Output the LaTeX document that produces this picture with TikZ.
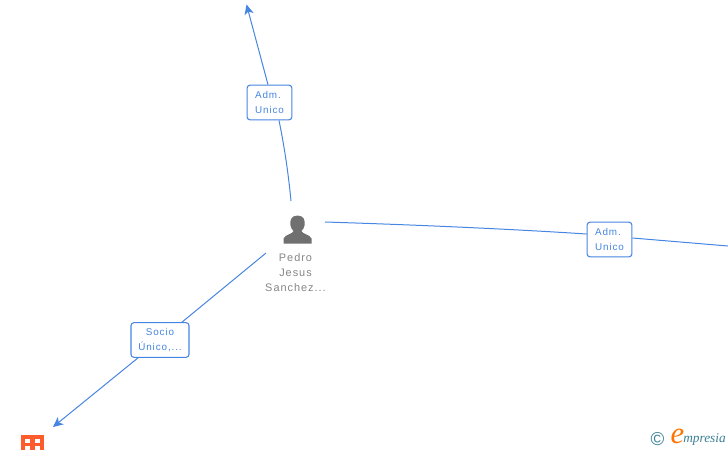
\documentclass[tikz,border=0pt]{standalone}
\usepackage{fontspec}
\setmainfont{Liberation Sans}
\newfontfamily\logofont{Liberation Serif}
\newfontfamily\spacedfont[LetterSpace=9]{Liberation Sans}
\usetikzlibrary{arrows.meta,positioning,calc}
\definecolor{linkblue}{HTML}{4685E2}
\definecolor{iconorange}{HTML}{FF5C2E}
\definecolor{icongray}{HTML}{707070}
\definecolor{logoteal}{HTML}{3A7F96}

\begin{document}
\begin{tikzpicture}[
    x=0.75pt, y=-0.75pt,
    rolebox/.style={draw=linkblue, line width=0.8pt, rounded corners=2.2pt, fill=white, align=center, inner sep=0pt,
        minimum height=26pt, text=linkblue, font=\fontsize{7.4}{11.2}\spacedfont},
    link/.style={linkblue, line width=0.75pt},
    arr/.style={link, -{Stealth[length=7.5pt, width=7pt, inset=2pt]}},
    who/.style={align=center, text=icongray!85, font=\fontsize{8.2}{11.2}\spacedfont, inner sep=0pt}
]
\useasboundingbox (0,0) rectangle (728,450);

\node[rolebox, minimum width=33.6pt, align=left] (admtop) at (269.5,102.5) {Adm.\\Unico};
\node[rolebox, minimum width=33.6pt, align=left] (admright) at (609.5,239.5) {Adm.\\Unico};
\node[rolebox, minimum width=43.5pt] (socio) at (160,340) {Socio\\Único,...};
\node[who] (pedro) at (295.5,272.5) {Pedro\\Jesus\\Sanchez...};

\coordinate (fromtop) at (291,201);
\coordinate (fromright) at (325,222);
\coordinate (fromleft) at (266,253);
\coordinate (uptip) at (246.5,4.5);
\coordinate (downtip) at (53,427);
\coordinate (rightend) at (728,246);

\draw[link] (fromtop) .. controls (288,170) and (284,145) .. (admtop.south -| 279,0);
\draw[arr] (admtop.north -| 268,0) -- (uptip);
\draw[link] (fromright) .. controls (420,225) and (510,229) .. (admright.west |- 0,234);
\draw[link] (admright.east |- 0,238) -- (rightend);
\draw[link] (fromleft) -- (socio.north -| 182,0);
\draw[arr] (socio.south -| 138,0) -- (downtip);

% person
\fill[icongray] (297.5,215.5) .. controls (291,215.5) and (289.5,221) .. (290.5,225.5)
    .. controls (291,228) and (292,229.5) .. (293.5,231)
    .. controls (293,234) and (285,234.5) .. (283.5,238.5) -- (283.5,243.5) -- (311.5,243.5) -- (311.5,238.5)
    .. controls (310,234.5) and (302,234) .. (301.5,231)
    .. controls (303,229.5) and (304,228) .. (304.5,225.5)
    .. controls (305.5,221) and (304,215.5) .. (297.5,215.5) -- cycle;

% building
\fill[iconorange] (21,435) rectangle (44,450);
\foreach \wx in {25,34.5} {
    \foreach \wy in {439,446} {
        \fill[white] (\wx,\wy) rectangle ++(5,4);
    }
}

% logo
\node[text=logoteal, font=\fontsize{14}{14}\selectfont, inner sep=0pt] (copyr) at (657.5,439) {©};
\node[text=orange!90!red, font=\fontsize{23}{23}\logofont\itshape, inner sep=0pt] (elogo) at (677.5,436) {e};
\node[text=logoteal, font=\fontsize{10}{11}\logofont\itshape, inner sep=0pt, anchor=west] (mpresia) at (683,439) {mpresia};
\end{tikzpicture}
\end{document}
